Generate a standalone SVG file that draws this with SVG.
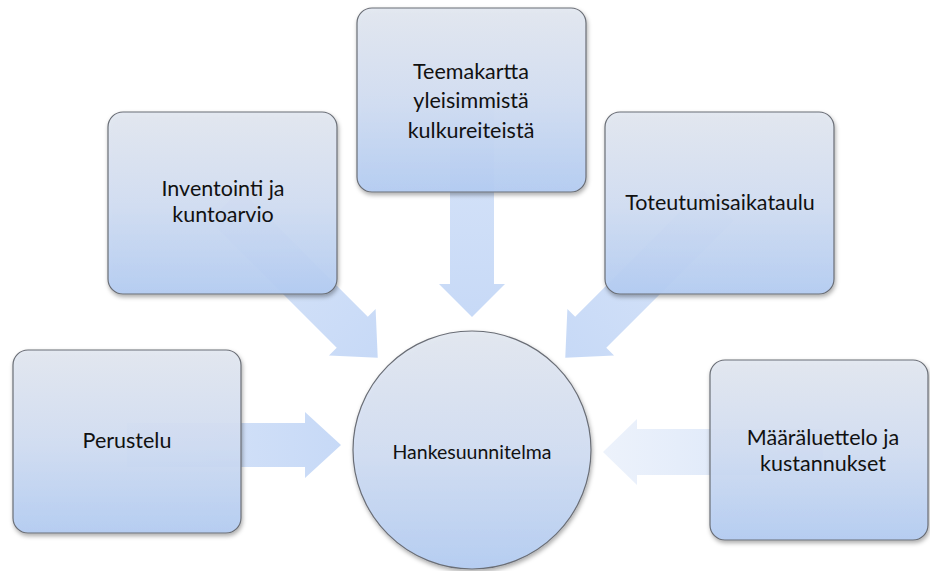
<svg xmlns="http://www.w3.org/2000/svg" width="930" height="571" viewBox="0 0 930 571">
<defs>
<linearGradient id="gBox" x1="0" y1="0" x2="0" y2="1">
<stop offset="0" stop-color="#e3e8f1"/>
<stop offset="0.5" stop-color="#d2def3"/>
<stop offset="1" stop-color="#b4cdf3"/>
</linearGradient>
<linearGradient id="gArrow" x1="0" y1="0" x2="1" y2="0">
<stop offset="0" stop-color="#d6e3f8"/>
<stop offset="1" stop-color="#c2d6f6"/>
</linearGradient>
<linearGradient id="gArrowL" x1="0" y1="0" x2="1" y2="0">
<stop offset="0" stop-color="#d3e1f7"/>
<stop offset="1" stop-color="#ebf1fb"/>
</linearGradient>
<filter id="sh" x="-10%" y="-10%" width="125%" height="125%">
<feDropShadow dx="1" dy="2.5" stdDeviation="2" flood-color="#000" flood-opacity="0.35"/>
</filter>
</defs>
<style>
.box{fill:url(#gBox);stroke:#6a6e76;stroke-width:1.2;fill-opacity:0.93;filter:url(#sh)}
.arr{fill:url(#gArrow);fill-opacity:0.92}
.arrL{fill:url(#gArrowL);fill-opacity:0.92}
.t{font-family:Lato,"Liberation Sans",sans-serif;font-size:21.5px;fill:#111;text-anchor:middle}
.tc{font-family:Lato,"Liberation Sans",sans-serif;font-size:19.5px;fill:#111;text-anchor:middle}
</style>
<g id="connectors">
<polygon class="arr" transform="translate(127,445)" points="0,-22 178,-22 178,-33 214,0 178,33 178,22 0,22"/>
<polygon class="arrL" transform="translate(823,452) rotate(180)" points="0,-23 186,-23 186,-33 220,0 186,33 186,23 0,23"/>
<polygon class="arr" transform="translate(472,97) rotate(90)" points="0,-22 187,-22 187,-33 220,0 187,33 187,22 0,22"/>
<polygon class="arr" transform="translate(225,205) rotate(45)" points="0,-22 180,-22 180,-33 216,0 180,33 180,22 0,22"/>
<polygon class="arr" transform="translate(718,205) rotate(135)" points="0,-22 180,-22 180,-33 216,0 180,33 180,22 0,22"/>
</g>
<g id="perustelu">
<rect class="box" x="13" y="350" width="228" height="183" rx="15"/>
<text class="t" x="127" y="448">Perustelu</text>
</g>
<g id="inventointi">
<rect class="box" x="108" y="112" width="229" height="182" rx="15"/>
<text class="t" x="223" y="196">Inventointi ja</text>
<text class="t" x="223" y="222">kuntoarvio</text>
</g>
<g id="teemakartta">
<rect class="box" x="357" y="8" width="229" height="184" rx="15"/>
<text class="t" x="471" y="79">Teemakartta</text>
<text class="t" x="471" y="108">yleisimmistä</text>
<text class="t" x="471" y="138">kulkureiteistä</text>
</g>
<g id="toteutumisaikataulu">
<rect class="box" x="605" y="112" width="229" height="182" rx="15"/>
<text class="t" x="720" y="210">Toteutumisaikataulu</text>
</g>
<g id="maaraluettelo">
<rect class="box" x="710" y="360" width="218" height="180" rx="15"/>
<text class="t" x="823" y="445">Määräluettelo ja</text>
<text class="t" x="823" y="471">kustannukset</text>
</g>
<g id="hankesuunnitelma">
<circle class="box" cx="472" cy="450" r="119"/>
<text class="tc" x="472" y="459">Hankesuunnitelma</text>
</g>
</svg>
